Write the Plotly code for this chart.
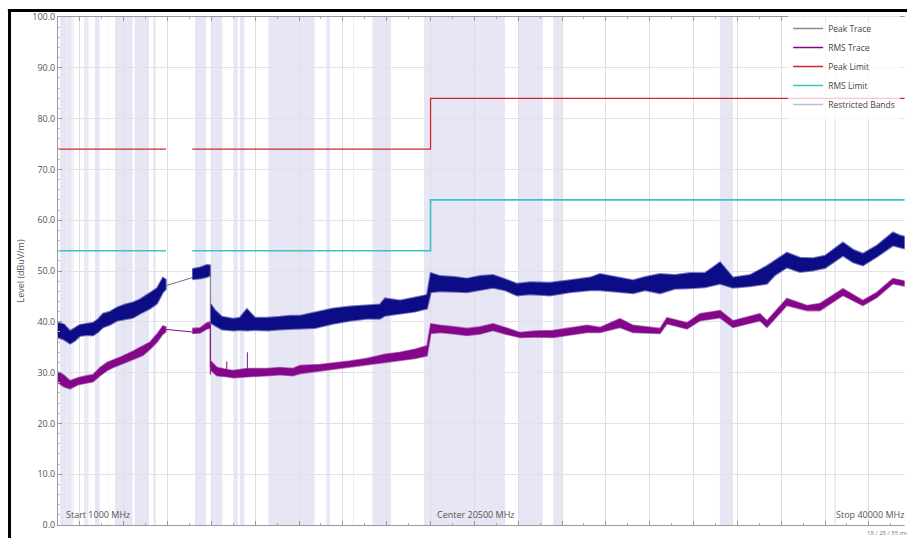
import plotly.graph_objects as go

# ---------------- data (MHz, dBuV/m) ----------------
peak_freq = [1000, 1270, 1550, 1780, 2000, 2320, 2600, 2830, 3050, 3370, 3690, 4060, 4420, 4740, 5200, 5520, 5790, 5920,
             7130, 7480, 7800, 7940,
             7960, 8160, 8480, 8990, 9300, 9620, 9990, 10540, 11130, 11590, 12040, 12730, 13550, 14320, 15100, 15690,
             15920, 16610, 17290, 17840, 18010, 18430, 19120, 19660, 20260, 20850, 21400, 21940, 22540, 23450, 24360,
             25280, 25730, 26420, 27240, 27790, 28470, 29150, 29840, 30520, 31210, 31800, 32580, 33350, 33720, 34260,
             34860, 35450, 36000, 36820, 37280, 37730, 38370, 39100, 39420, 40000]
peak_lo = [36.9, 36.5, 35.7, 36.3, 37.2, 37.4, 37.3, 38.0, 38.9, 39.4, 40.2, 40.5, 40.8, 41.6, 42.6, 43.6, 45.8, 46.4,
           48.4, 48.5, 48.8, 49.1,
           39.8, 39.2, 38.5, 38.3, 38.4, 38.3, 38.4, 38.3, 38.5, 38.6, 38.6, 38.8, 39.6, 40.2, 40.6, 40.6,
           41.2, 41.6, 42.0, 42.6, 45.8, 46.0, 45.9, 45.8, 46.2, 46.7, 46.2, 45.2, 45.4, 45.2, 45.8,
           46.2, 46.2, 46.0, 45.6, 46.2, 45.6, 46.5, 46.6, 46.8, 47.5, 46.7, 47.0, 47.5, 49.2, 50.7,
           49.8, 50.1, 50.6, 53.0, 51.7, 51.1, 52.8, 55.0, 54.6, 54.0]
peak_hi = [39.8, 39.5, 38.2, 38.8, 39.4, 39.6, 39.8, 40.5, 41.6, 42.0, 42.8, 43.4, 43.8, 44.4, 45.6, 46.6, 48.7, 48.3,
           50.4, 50.7, 51.2, 51.1,
           43.5, 42.3, 41.0, 40.6, 40.8, 42.5, 40.8, 40.8, 41.0, 41.2, 41.2, 41.8, 42.6, 43.0, 43.3, 43.4,
           44.6, 44.2, 44.8, 45.3, 49.6, 49.0, 48.8, 48.5, 49.0, 49.2, 48.4, 47.5, 47.8, 47.7, 48.2,
           48.7, 49.4, 48.8, 48.2, 48.8, 49.4, 49.2, 49.6, 49.6, 51.7, 48.7, 49.2, 51.0, 52.0, 53.6,
           52.6, 52.5, 53.0, 55.6, 54.2, 53.4, 55.0, 57.6, 57.0, 56.4]

rms_freq = [1000, 1270, 1550, 1910, 2320, 2600, 2920, 3240, 3510, 3830, 4420, 4880, 5200, 5520, 5790, 5920,
            7130, 7480, 7800, 7940,
            7960, 8260, 8710, 8990, 9620, 10540, 11130, 11720, 12040, 12960, 14320, 15100, 15920, 16610, 17290, 17840,
            18010, 18430, 19120, 19660, 20260, 20850, 21400, 22080, 22770, 23590, 24360, 25140, 25730, 26640, 27240,
            28470, 28790, 29700, 30290, 31210, 31800, 32440, 33030, 33350, 34260, 35180, 35770, 36820, 37730, 38370,
            39100, 40000]
rms_lo = [28.0, 27.2, 26.8, 27.6, 28.0, 28.2, 29.4, 30.4, 31.0, 31.6, 32.6, 33.4, 34.6, 36.0, 37.6, 38.0,
          37.7, 37.8, 38.6, 38.8,
          30.5, 29.4, 29.2, 29.0, 29.2, 29.4, 29.6, 29.4, 29.8, 30.2, 31.0, 31.6, 32.0, 32.4, 32.8, 33.3,
          37.7, 37.9, 37.6, 37.3, 37.6, 38.3, 37.6, 36.9, 37.0, 36.9, 37.4, 37.9, 37.9, 38.9, 37.9,
          37.7, 39.6, 38.6, 40.2, 40.8, 38.9, 39.6, 40.2, 38.9, 43.2, 42.2, 42.2, 45.2, 43.2, 44.8,
          47.5, 46.7]
rms_hi = [30.2, 29.5, 28.4, 29.0, 29.4, 29.6, 31.0, 32.0, 32.5, 33.0, 34.2, 35.2, 36.0, 37.6, 39.2, 39.0,
          38.7, 38.8, 39.8, 39.9,
          32.3, 31.0, 30.6, 30.4, 30.8, 30.8, 31.0, 30.8, 31.4, 31.6, 32.3, 32.8, 33.6, 34.0, 34.6, 35.3,
          39.6, 39.3, 39.0, 38.7, 39.0, 39.6, 38.9, 37.9, 38.2, 38.3, 38.8, 39.3, 38.9, 40.6, 39.3,
          38.7, 40.8, 39.8, 41.6, 42.2, 40.2, 41.0, 41.6, 40.2, 44.6, 43.2, 43.6, 46.5, 44.2, 45.8,
          48.5, 47.7]

# gaps in the sweep (segment boundaries)
gap_after = [5920, 7940]

# thin connecting sweeps across the gaps / steps
peak_link_f = [5920, 7130, None, 7950, 7950]
peak_link_v = [47.1, 48.7, None, 50.0, 31.0]
rms_link_f = [5920, 7130, None, 7950, 7950]
rms_link_v = [38.5, 38.0, None, 39.3, 29.6]

# isolated RMS spikes
rms_spike_f = [8700, 9640]
rms_spike_base = [30.0, 30.0]
rms_spike_top = [32.2, 34.0]

# limits
peak_limit_f = [1000, 5925, None, 7125, 18000, 18000, 40000]
peak_limit_v = [74, 74, None, 74, 74, 84, 84]
rms_limit_f = [1000, 5925, None, 7125, 18000, 18000, 40000]
rms_limit_v = [54, 54, None, 54, 54, 64, 64]

# restricted bands (MHz)
band_start = [1100, 1435, 1660, 1718.8, 2200, 2310, 2483.5, 2690, 3260, 3332, 3345.8, 3600, 4500, 5350, 7250, 8025,
              9000, 9300, 10600, 13250, 14470, 15350, 17700, 22010, 23600, 31200, 36430]
band_end = [1427, 1626.5, 1710, 1722.2, 2300, 2390, 2500, 2900, 3267, 3339, 3358, 4400, 5150, 5460, 7750, 8500,
            9200, 9500, 12700, 13400, 14500, 16200, 21400, 23120, 24000, 31800, 36500]

y_ticks = [0, 10, 20, 30, 40, 50, 60, 70, 80, 90, 100]
legend_names = ["Peak Trace", "RMS Trace", "Peak Limit", "RMS Limit", "Restricted Bands"]

# ---------------- colours ----------------
C_PEAK = "#0c0c86"
C_PEAK_EDGE = "rgba(20,20,140,0.55)"
C_PEAK_LINK = "#6a6a98"
C_RMS = "#84078a"
C_RMS_EDGE = "rgba(132,7,138,0.55)"
C_PEAK_LIM = "#d0282e"
C_RMS_LIM = "#3cc3c3"
C_BAND = "#e6e6f4"
legend_colors = ["#8c8c8c", C_RMS, C_PEAK_LIM, C_RMS_LIM, "#b7bdd9"]
FONT = "Open Sans"


def envelope(freq, lo, hi, gaps):
    xs, ys = [], []
    seg = []
    for i, f in enumerate(freq):
        seg.append(i)
        if f in gaps or i == len(freq) - 1:
            fx = [freq[j] for j in seg]
            xs += fx + fx[::-1] + [None]
            ys += [hi[j] for j in seg] + [lo[j] for j in seg][::-1] + [None]
            seg = []
    return xs, ys


fig = go.Figure()

# bands
for s, e in zip(band_start, band_end):
    fig.add_shape(type="rect", xref="x", yref="paper", x0=s, x1=e, y0=0, y1=1,
                  fillcolor=C_BAND, line=dict(width=0), layer="below")

# limits
fig.add_trace(go.Scatter(x=peak_limit_f, y=peak_limit_v, mode="lines",
                         line=dict(color=C_PEAK_LIM, width=1.3), showlegend=False, hoverinfo="skip"))
fig.add_trace(go.Scatter(x=rms_limit_f, y=rms_limit_v, mode="lines",
                         line=dict(color=C_RMS_LIM, width=1.6), showlegend=False, hoverinfo="skip"))

# peak trace
px_, py_ = envelope(peak_freq, peak_lo, peak_hi, gap_after)
fig.add_trace(go.Scatter(x=px_, y=py_, mode="lines", fill="toself", fillcolor=C_PEAK,
                         line=dict(color=C_PEAK_EDGE, width=2), showlegend=False, hoverinfo="skip"))
fig.add_trace(go.Scatter(x=peak_link_f, y=peak_link_v, mode="lines",
                         line=dict(color=C_PEAK_LINK, width=1), showlegend=False, hoverinfo="skip"))

# rms trace
rx_, ry_ = envelope(rms_freq, rms_lo, rms_hi, gap_after)
fig.add_trace(go.Scatter(x=rx_, y=ry_, mode="lines", fill="toself", fillcolor=C_RMS,
                         line=dict(color=C_RMS_EDGE, width=1.6), showlegend=False, hoverinfo="skip"))
fig.add_trace(go.Scatter(x=rms_link_f, y=rms_link_v, mode="lines",
                         line=dict(color=C_RMS, width=1), showlegend=False, hoverinfo="skip"))
sx, sy = [], []
for f, b, t in zip(rms_spike_f, rms_spike_base, rms_spike_top):
    sx += [f, f, None]
    sy += [b, t, None]
fig.add_trace(go.Scatter(x=sx, y=sy, mode="lines", line=dict(color=C_RMS, width=1),
                         showlegend=False, hoverinfo="skip"))

# legend entries
for n, c in zip(legend_names, legend_colors):
    fig.add_trace(go.Scatter(x=[None], y=[None], mode="lines", name=n,
                             line=dict(color=c, width=1.5)))

# frame of the screenshot
fig.add_shape(type="line", xref="paper", yref="paper", x0=-0.0571, x1=-0.0571, y0=1.0128, y1=-0.05,
              line=dict(color="black", width=3))
fig.add_shape(type="line", xref="paper", yref="paper", x0=-0.059, x1=1.0, y0=1.0128, y1=1.0128,
              line=dict(color="black", width=3))
# white strip along the right edge (the original is cropped here)
fig.add_shape(type="rect", xref="paper", yref="paper", x0=0.9972, x1=1.01, y0=-0.05, y1=1.0095,
              fillcolor="white", line=dict(width=0), layer="above")

fig.add_annotation(text="Start 1000 MHz", xref="paper", yref="paper", x=0.007, y=0.02,
                   xanchor="left", yanchor="middle", showarrow=False,
                   font=dict(family=FONT, size=9, color="#555"))
fig.add_annotation(text="Center 20500 MHz", xref="paper", yref="paper", x=0.492, y=0.02,
                   xanchor="center", yanchor="middle", showarrow=False,
                   font=dict(family=FONT, size=9, color="#555"))
fig.add_annotation(text="Stop 40000 MHz", xref="paper", yref="paper", x=0.999, y=0.02,
                   xanchor="right", yanchor="middle", showarrow=False,
                   font=dict(family=FONT, size=9, color="#555"))
fig.add_annotation(text="18 / 25 / 55 ms", xref="paper", yref="paper", x=0.951, y=-0.016,
                   xanchor="left", yanchor="middle", showarrow=False,
                   font=dict(family=FONT, size=6, color="#777"))

fig.update_layout(
    width=907, height=538,
    margin=dict(l=58, r=0, t=17, b=13),
    paper_bgcolor="white", plot_bgcolor="white",
    font=dict(family=FONT, size=9, color="#555"),
    legend=dict(x=0.86, y=1.006, xanchor="left", yanchor="top", bgcolor="rgba(255,255,255,0.75)",
                font=dict(family=FONT, size=8.5, color="#444"), itemwidth=30, borderwidth=0),
    xaxis=dict(range=[1000, 39741], tick0=0, dtick=2000, showticklabels=False,
               showgrid=True, gridcolor="#dedede", gridwidth=1,
               ticks="inside", ticklen=4, tickcolor="#999",
               minor=dict(dtick=1000, tick0=0, ticks="inside", ticklen=2, tickcolor="#aaa", showgrid=False),
               showline=True, linecolor="#999", linewidth=1, mirror="ticks", zeroline=False),
    yaxis=dict(range=[0, 100], tickvals=y_ticks, tickformat=".1f",
               showgrid=True, gridcolor="#e2e2e2", gridwidth=1,
               ticks="inside", ticklen=4, tickcolor="#999",
               minor=dict(dtick=2, ticks="inside", ticklen=2, tickcolor="#bbb", showgrid=False),
               showline=True, linecolor="#999", linewidth=1, zeroline=False,
               title=dict(text="Level (dBuV/m)", font=dict(family=FONT, size=9, color="#555"), standoff=6),
               tickfont=dict(family=FONT, size=9, color="#555")),
)

fig.write_html("out.html", config={"displayModeBar": False},
               post_script="document.body.style.margin='0px';document.body.style.overflow='hidden';"
                           "document.documentElement.style.overflow='hidden';")
